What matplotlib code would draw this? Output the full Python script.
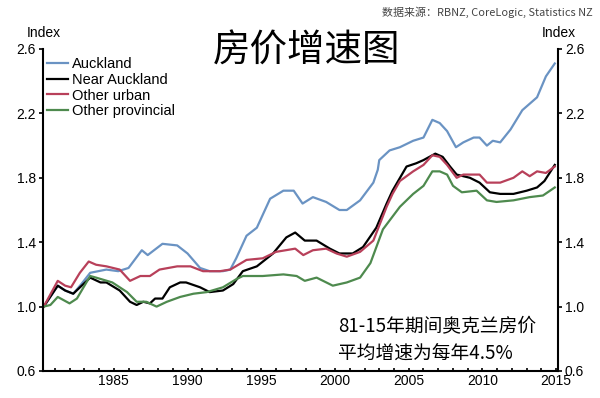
import matplotlib
matplotlib.use('Agg')
import matplotlib.pyplot as plt
from matplotlib.ticker import MultipleLocator

plt.rcParams['font.family'] = ['Liberation Sans', 'Noto Sans CJK SC', 'DejaVu Sans']

# values (index, start = 1.0)
auckland_x = [1980.25, 1981.2, 1981.7, 1982.25, 1982.8, 1983.4, 1984.5, 1985.3, 1986.0, 1986.9, 1987.3,
              1988.3, 1989.3, 1990.0, 1990.85, 1991.5, 1992.4, 1992.9, 1993.3, 1994.0, 1994.7,
              1995.6, 1996.5, 1997.2, 1997.8, 1998.5, 1999.4, 2000.3, 2000.8, 2001.7, 2002.6,
              2002.9, 2003.0, 2003.7, 2004.4, 2005.3, 2006.0, 2006.6, 2007.1, 2007.6, 2008.2,
              2008.7, 2009.4, 2009.8, 2010.3, 2010.7, 2011.2, 2011.9, 2012.7, 2013.7, 2014.3, 2014.9]
auckland = [1.00, 1.13, 1.10, 1.08, 1.14, 1.21, 1.23, 1.22, 1.24, 1.35, 1.32,
            1.39, 1.38, 1.33, 1.24, 1.22, 1.22, 1.23, 1.30, 1.44, 1.49,
            1.67, 1.72, 1.72, 1.64, 1.68, 1.65, 1.60, 1.60, 1.66, 1.77,
            1.85, 1.91, 1.97, 1.99, 2.03, 2.05, 2.16, 2.14, 2.09, 1.99,
            2.02, 2.05, 2.05, 2.00, 2.03, 2.02, 2.10, 2.22, 2.30, 2.43, 2.51]

near_x = [1980.25, 1981.2, 1981.7, 1982.25, 1983.4, 1984.1, 1984.5, 1985.4, 1986.1, 1986.55, 1987.0,
          1987.45, 1987.8, 1988.3, 1988.8, 1989.5, 1989.9, 1990.85, 1991.5, 1992.4, 1993.1,
          1993.75, 1994.7, 1995.8, 1996.7, 1997.3, 1997.95, 1998.75, 1999.65, 2000.3, 2001.2,
          2001.9, 2002.8, 2003.5, 2003.9, 2004.85, 2005.5, 2006.0, 2006.8, 2007.3, 2007.8,
          2008.25, 2009.15, 2009.8, 2010.5, 2011.2, 2012.1, 2013.0, 2013.7, 2014.2, 2014.9]
near_auckland = [1.00, 1.13, 1.10, 1.08, 1.18, 1.15, 1.15, 1.10, 1.03, 1.01, 1.03,
                 1.02, 1.05, 1.05, 1.12, 1.15, 1.15, 1.12, 1.09, 1.10, 1.14,
                 1.22, 1.25, 1.33, 1.43, 1.46, 1.41, 1.41, 1.36, 1.33, 1.33,
                 1.37, 1.49, 1.64, 1.72, 1.87, 1.89, 1.91, 1.95, 1.93, 1.87,
                 1.82, 1.80, 1.77, 1.71, 1.70, 1.70, 1.72, 1.74, 1.78, 1.88]

urban_x = [1980.25, 1981.2, 1981.7, 1982.1, 1982.7, 1983.3, 1983.8, 1984.5, 1985.4, 1986.1, 1986.8,
           1987.45, 1988.1, 1989.3, 1990.2, 1991.05, 1992.2, 1992.9, 1994.0, 1995.1, 1996.0,
           1997.3, 1997.85, 1998.5, 1999.4, 2000.1, 2000.8, 2001.7, 2002.6, 2003.5, 2003.9,
           2004.4, 2005.3, 2006.0, 2006.6, 2007.1, 2007.6, 2008.25, 2008.7, 2009.8, 2010.3,
           2011.2, 2012.1, 2012.7, 2013.2, 2013.7, 2014.3, 2014.9]
other_urban = [1.00, 1.16, 1.13, 1.12, 1.21, 1.28, 1.26, 1.25, 1.23, 1.16, 1.19,
               1.19, 1.23, 1.25, 1.25, 1.22, 1.22, 1.23, 1.29, 1.30, 1.34,
               1.36, 1.32, 1.35, 1.36, 1.33, 1.31, 1.34, 1.41, 1.62, 1.70,
               1.78, 1.84, 1.88, 1.94, 1.93, 1.88, 1.80, 1.82, 1.82, 1.77,
               1.77, 1.80, 1.84, 1.81, 1.84, 1.83, 1.87]

prov_x = [1980.25, 1980.7, 1981.2, 1981.6, 1982.0, 1982.5, 1983.4, 1983.8, 1984.9, 1985.9, 1986.55,
          1987.2, 1987.9, 1988.6, 1989.5, 1990.4, 1991.3, 1992.4, 1993.3, 1993.75, 1995.1,
          1996.5, 1997.4, 1997.95, 1998.75, 1999.85, 2000.8, 2001.7, 2002.4, 2003.25, 2004.4,
          2005.3, 2006.0, 2006.6, 2007.1, 2007.6, 2008.0, 2008.6, 2009.6, 2010.3, 2010.95,
          2012.1, 2013.2, 2014.1, 2014.9]
other_provincial = [1.00, 1.01, 1.06, 1.04, 1.02, 1.05, 1.19, 1.18, 1.15, 1.09, 1.03,
                    1.03, 1.00, 1.03, 1.06, 1.08, 1.09, 1.12, 1.17, 1.19, 1.19,
                    1.20, 1.19, 1.16, 1.18, 1.13, 1.15, 1.18, 1.27, 1.48, 1.62,
                    1.70, 1.75, 1.84, 1.84, 1.82, 1.75, 1.71, 1.72, 1.66, 1.65,
                    1.66, 1.68, 1.69, 1.74]

fig = plt.figure(figsize=(6, 3.98), dpi=100)
ax = fig.add_axes([43/600, 1 - 371/398, 515/600, 322/398])

ax.plot(auckland_x, auckland, color='#6a93c3', lw=1.6, label='Auckland')
ax.plot(near_x, near_auckland, color='black', lw=1.6, label='Near Auckland')
ax.plot(urban_x, other_urban, color='#b8405a', lw=1.6, label='Other urban')
ax.plot(prov_x, other_provincial, color='#4e8a4e', lw=1.6, label='Other provincial')

ax.set_xlim(1980.2, 2015.12)
ax.set_ylim(0.6, 2.6)
ax.set_yticks([0.6, 1.0, 1.4, 1.8, 2.2, 2.6])
ax.set_yticklabels(['0.6', '1.0', '1.4', '1.8', '2.2', '2.6'])
ax.xaxis.set_major_locator(MultipleLocator(5))
ax.xaxis.set_minor_locator(MultipleLocator(1))

ax.spines['top'].set_visible(False)
for s in ['left', 'right', 'bottom']:
    ax.spines[s].set_linewidth(1.5)
ax.tick_params(axis='y', which='both', direction='out', length=3, width=1.2,
               left=True, right=True, labelleft=True, labelright=True, labelsize=10, pad=2)
ax.tick_params(axis='x', which='both', direction='in', length=2.5, width=1.2,
               labelsize=10, pad=2)

leg = ax.legend(loc='upper left', bbox_to_anchor=(0.008, 0.975), frameon=False,
                fontsize=10.5, handlelength=1.45, handletextpad=0.25, labelspacing=0.12,
                borderpad=0, borderaxespad=0)

cjk = ['Noto Sans CJK SC', 'DejaVu Sans']
fig.text(44/600, 1 - 33/398, 'Index', ha='center', va='center', fontsize=10)
fig.text(559/600, 1 - 33/398, 'Index', ha='center', va='center', fontsize=10)
fig.text(307/600, 1 - 51/398, '房价增速图', ha='center', va='center', fontsize=27, family=cjk)
fig.text(593/600, 1 - 12/398, '数据来源：RBNZ, CoreLogic, Statistics NZ', ha='right', va='center',
         fontsize=7.9, color='#444444', family=cjk)
fig.text(338/600, 1 - 340/398, '81-15年期间奥克兰房价\n平均增速为每年4.5%', ha='left', va='center',
         fontsize=13.5, family=cjk, linespacing=1.3)

fig.savefig('out.png', dpi=100)
